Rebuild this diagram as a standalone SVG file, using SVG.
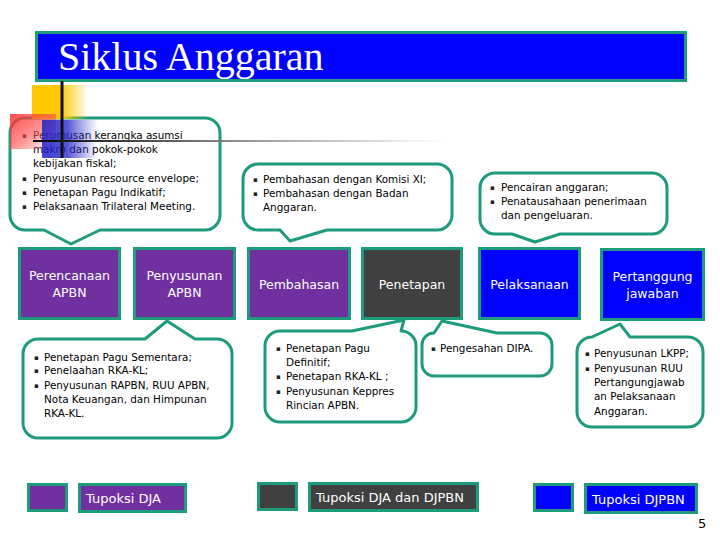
<svg xmlns="http://www.w3.org/2000/svg" width="720" height="540" viewBox="0 0 720 540">
<defs>
<linearGradient id="gY" x1="0" y1="0" x2="1" y2="0"><stop offset="0" stop-color="#FFC800"/><stop offset="0.5" stop-color="#FFC800"/><stop offset="1" stop-color="#FFC800" stop-opacity="0"/></linearGradient>
<linearGradient id="gR" x1="0" y1="0" x2="1" y2="1"><stop offset="0" stop-color="#FF2A2A" stop-opacity="0.85"/><stop offset="0.55" stop-color="#FF5050" stop-opacity="0.6"/><stop offset="1" stop-color="#FF8080" stop-opacity="0"/></linearGradient>
<linearGradient id="gB" x1="0" y1="0" x2="1" y2="0"><stop offset="0" stop-color="#2020C8"/><stop offset="0.45" stop-color="#2020C8" stop-opacity="0.9"/><stop offset="1" stop-color="#4040D0" stop-opacity="0"/></linearGradient>
<linearGradient id="gL" x1="0" y1="0" x2="1" y2="0"><stop offset="0" stop-color="#000"/><stop offset="0.35" stop-color="#666"/><stop offset="0.8" stop-color="#bbb" stop-opacity="0.6"/><stop offset="1" stop-color="#ddd" stop-opacity="0"/></linearGradient>
</defs>
<style>
.box{stroke:#1E9B7D;stroke-width:3}
.pu{fill:#7030A0}.dk{fill:#404040}.bl{fill:#0000FF}
.bt{font-family:"DejaVu Sans",sans-serif;font-size:12.5px;fill:#fff;text-anchor:middle}
.co{fill:#fff;stroke:#1E9B7D;stroke-width:3;stroke-linejoin:round}
.ct{font-family:"DejaVu Sans",sans-serif;font-size:10.4px;fill:#000}
.b{font-size:7px;fill:#222}
.lt{font-family:"DejaVu Sans",sans-serif;font-size:13px;fill:#fff}
</style>
<rect width="720" height="540" fill="#fff"/>
<g id="title">
<rect x="36.5" y="32.5" width="649" height="48" fill="#0000FF" stroke="#1E9B7D" stroke-width="3"/>
<text x="58" y="70" font-family="Liberation Serif, serif" font-size="40" fill="#fff">Siklus Anggaran</text>
</g>
<g id="stage-perencanaan"><rect class="box pu" x="19.5" y="248.5" width="100" height="70"/><text class="bt" x="69.5" y="280">Perencanaan</text><text class="bt" x="69.5" y="297">APBN</text></g>
<g id="stage-penyusunan"><rect class="box pu" x="134.5" y="248.5" width="100" height="70"/><text class="bt" x="184.5" y="280">Penyusunan</text><text class="bt" x="184.5" y="297">APBN</text></g>
<g id="stage-pembahasan"><rect class="box pu" x="248.5" y="248.5" width="101" height="70"/><text class="bt" x="299" y="289">Pembahasan</text></g>
<g id="stage-penetapan"><rect class="box dk" x="362.5" y="248.5" width="99" height="70"/><text class="bt" x="412" y="289">Penetapan</text></g>
<g id="stage-pelaksanaan"><rect class="box bl" x="479.5" y="248.5" width="100" height="70"/><text class="bt" x="529.5" y="289">Pelaksanaan</text></g>
<g id="stage-pertanggungjawaban"><rect class="box bl" x="601.5" y="249.5" width="102" height="70"/><text class="bt" x="652.5" y="281">Pertanggung</text><text class="bt" x="652.5" y="298">jawaban</text></g>
<g id="callout-perencanaan">
<path class="co" d="M25,118 H205 A15,15 0 0 1 220,133 V215 A15,15 0 0 1 205,230 H100 L71,244 L44,230 H25 A15,15 0 0 1 10,215 V133 A15,15 0 0 1 25,118 Z"/>
<text class="ct"><tspan class="b" x="22" y="137.5">▪</tspan><tspan x="33" y="139">Perumusan kerangka asumsi</tspan><tspan x="33" y="153">makro dan pokok-pokok</tspan><tspan x="33" y="167">kebijakan fiskal;</tspan><tspan class="b" x="22" y="180.5">▪</tspan><tspan x="33" y="182">Penyusunan resource envelope;</tspan><tspan class="b" x="22" y="194.5">▪</tspan><tspan x="33" y="196">Penetapan Pagu Indikatif;</tspan><tspan class="b" x="22" y="208.5">▪</tspan><tspan x="33" y="210">Pelaksanaan Trilateral Meeting.</tspan></text>
</g>
<g id="callout-pembahasan">
<path class="co" d="M258,164 H437 A15,15 0 0 1 452,179 V215 A15,15 0 0 1 437,230 H327 L290,241 L280,230 H258 A15,15 0 0 1 243,215 V179 A15,15 0 0 1 258,164 Z"/>
<text class="ct"><tspan class="b" x="253" y="181.5">▪</tspan><tspan x="263" y="183">Pembahasan dengan Komisi XI;</tspan><tspan class="b" x="253" y="195.5">▪</tspan><tspan x="263" y="197">Pembahasan dengan Badan</tspan><tspan x="263" y="211">Anggaran.</tspan></text>
</g>
<g id="callout-pelaksanaan">
<path class="co" d="M495,173 H652 A15,15 0 0 1 667,188 V219 A15,15 0 0 1 652,234 H560 L535,242 L512,234 H495 A15,15 0 0 1 480,219 V188 A15,15 0 0 1 495,173 Z"/>
<text class="ct"><tspan class="b" x="490" y="189.5">▪</tspan><tspan x="501" y="191">Pencairan anggaran;</tspan><tspan class="b" x="490" y="203.5">▪</tspan><tspan x="501" y="205">Penatausahaan penerimaan</tspan><tspan x="501" y="219">dan pengeluaran.</tspan></text>
</g>
<g id="callout-penyusunan">
<path class="co" d="M38,339 H145 L167,321 L195,339 H217 A15,15 0 0 1 232,354 V423 A15,15 0 0 1 217,438 H38 A15,15 0 0 1 23,423 V354 A15,15 0 0 1 38,339 Z"/>
<text class="ct"><tspan class="b" x="34" y="359.5">▪</tspan><tspan x="44" y="361">Penetapan Pagu Sementara;</tspan><tspan class="b" x="34" y="372.5">▪</tspan><tspan x="44" y="374">Penelaahan RKA-KL;</tspan><tspan class="b" x="34" y="387.5">▪</tspan><tspan x="44" y="389">Penyusunan RAPBN, RUU APBN,</tspan><tspan x="44" y="403">Nota Keuangan, dan Himpunan</tspan><tspan x="44" y="417">RKA-KL.</tspan></text>
</g>
<g id="callout-penetapan">
<path class="co" d="M280,331 H352 L404,320 L401,331 A15,15 0 0 1 416,346 V407 A15,15 0 0 1 401,422 H280 A15,15 0 0 1 265,407 V346 A15,15 0 0 1 280,331 Z"/>
<text class="ct"><tspan class="b" x="276" y="350.5">▪</tspan><tspan x="286" y="352">Penetapan Pagu</tspan><tspan x="286" y="366">Definitif;</tspan><tspan class="b" x="276" y="378.5">▪</tspan><tspan x="286" y="380">Penetapan RKA-KL ;</tspan><tspan class="b" x="276" y="393.5">▪</tspan><tspan x="286" y="395">Penyusunan Keppres</tspan><tspan x="286" y="409">Rincian APBN.</tspan></text>
</g>
<g id="callout-dipa">
<path class="co" d="M422,345 A12,12 0 0 1 434,333 L442,321 L497,333 H540 A12,12 0 0 1 552,345 V364 A12,12 0 0 1 540,376 H434 A12,12 0 0 1 422,364 Z"/>
<text class="ct"><tspan class="b" x="431" y="350.5">▪</tspan><tspan x="440" y="352">Pengesahan DIPA.</tspan></text>
</g>
<g id="callout-pertanggungjawaban">
<path class="co" d="M592,337 L620,324 L630,337 H688 A15,15 0 0 1 703,352 V412 A15,15 0 0 1 688,427 H592 A15,15 0 0 1 577,412 V352 A15,15 0 0 1 592,337 Z"/>
<text class="ct"><tspan class="b" x="585" y="355.5">▪</tspan><tspan x="594" y="357">Penyusunan LKPP;</tspan><tspan class="b" x="585" y="370.5">▪</tspan><tspan x="594" y="372">Penyusunan RUU</tspan><tspan x="594" y="386">Pertangungjawab</tspan><tspan x="594" y="400">an Pelaksanaan</tspan><tspan x="594" y="415">Anggaran.</tspan></text>
</g>
<g id="decoration">
<rect x="32" y="85" width="56" height="34" fill="url(#gY)"/>
<rect x="10" y="114" width="46" height="35" fill="url(#gR)"/>
<rect x="42" y="120" width="56" height="38" fill="url(#gB)" opacity="0.85"/>
<line x1="62" y1="81" x2="62" y2="158" stroke="#111" stroke-width="3"/>
<rect x="33" y="140" width="420" height="2" fill="url(#gL)"/>
</g>
<g id="legend-dja"><rect class="box pu" x="28.5" y="484.5" width="38" height="26"/><rect class="box pu" x="79.5" y="484.5" width="106" height="27"/><text class="lt" x="86" y="503">Tupoksi DJA</text></g>
<g id="legend-dja-djpbn"><rect class="box dk" x="258.5" y="483.5" width="38" height="26"/><rect class="box dk" x="309.5" y="483.5" width="168" height="27"/><text class="lt" x="316" y="502">Tupoksi DJA dan DJPBN</text></g>
<g id="legend-djpbn"><rect class="box bl" x="534.5" y="484.5" width="38" height="26"/><rect class="box bl" x="585.5" y="484.5" width="111" height="28"/><text class="lt" x="592" y="504">Tupoksi DJPBN</text></g>
<text x="698" y="528" font-family="DejaVu Sans, sans-serif" font-size="13" fill="#000">5</text>
</svg>
